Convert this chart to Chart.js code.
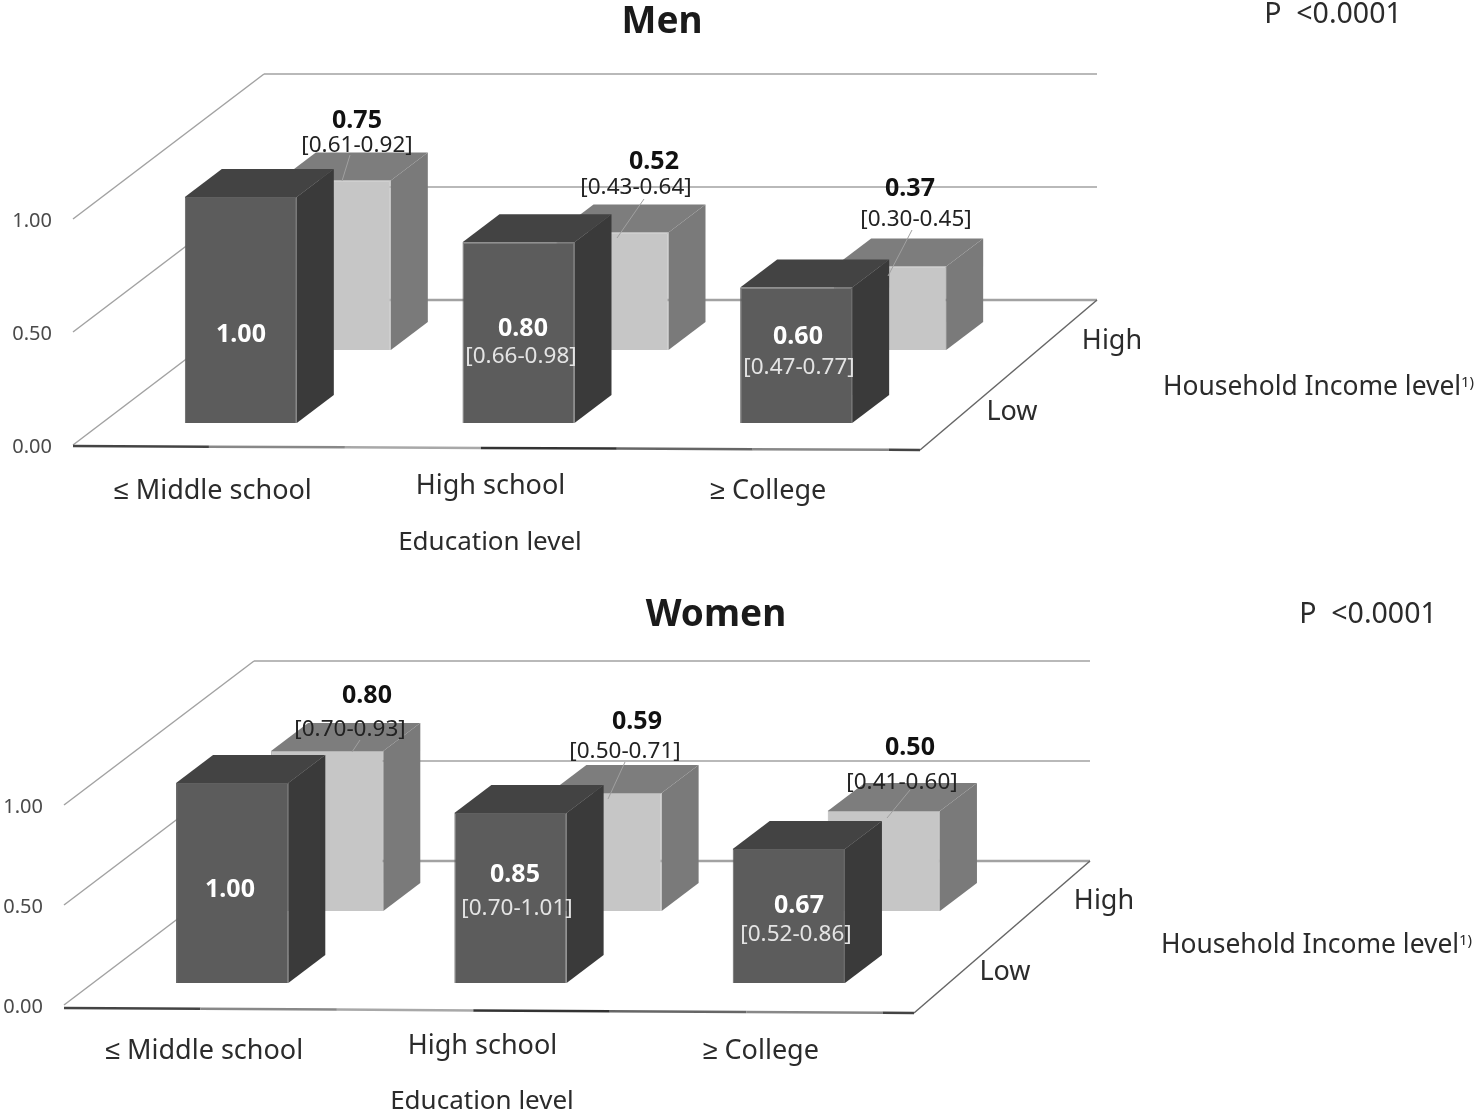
<!DOCTYPE html>
<html>
<head>
<meta charset="utf-8">
<style>
  html, body { margin: 0; background: #fff; }
  canvas { position: absolute; left: 0; }
</style>
<script src="https://cdn.jsdelivr.net/npm/chart.js@4"></script>
</head>
<body>
<canvas id="men" width="1477" height="575" style="top:0"></canvas>
<canvas id="women" width="1477" height="536" style="top:575px"></canvas>
<script>
const educationLevels = ['≤ Middle school', 'High school', '≥ College'];
const incomeLevels = ['Low', 'High'];
const yTickValues = [0, 0.5, 1];

const menLow = [1.00, 0.80, 0.60];
const menHigh = [0.75, 0.52, 0.37];
const menLowCI = ['', '[0.66-0.98]', '[0.47-0.77]'];
const menHighCI = ['[0.61-0.92]', '[0.43-0.64]', '[0.30-0.45]'];

const womenLow = [1.00, 0.85, 0.67];
const womenHigh = [0.80, 0.59, 0.50];
const womenLowCI = ['', '[0.70-1.01]', '[0.52-0.86]'];
const womenHighCI = ['[0.70-0.93]', '[0.50-0.71]', '[0.41-0.60]'];

const FONT = "'Noto Sans', sans-serif";
const TEXT = '#2b2b2b';
const BAR_DEPTH = { x: 37, y: 28 };
const FACES = {
  low: { front: '#5c5c5c', top: '#434343', side: '#3a3a3a', edge: '#606060' },
  high: { front: '#c6c6c6', top: '#7d7d7d', side: '#7a7a7a', edge: '#b4b4b4' },
};
const EDGE_COLORS = ['#444444', '#888888', '#a8a8a8', '#333333', '#666666', '#888888', '#444444'];

// 3D look: every row of bars is shifted back along the floor
const bars3d = {
  id: 'bars3d',

  beforeDatasetsDraw(chart, args, opts) {
    const { ctx, chartArea } = chart;
    const y = chart.scales.y;
    const left = chartArea.left;
    ctx.save();
    ctx.strokeStyle = '#a2a2a2';
    yTickValues.forEach((v) => {
      const py = y.getPixelForValue(v);
      const backX = left + opts.wall.x;
      const backY = py - opts.wall.y;
      ctx.lineWidth = 1.5;
      ctx.beginPath();
      ctx.moveTo(left, py);
      ctx.lineTo(backX, backY);
      ctx.stroke();
      ctx.lineWidth = v === 0 ? 2.5 : 1.5;
      ctx.beginPath();
      ctx.moveTo(backX, backY);
      ctx.lineTo(opts.wallRight, backY);
      ctx.stroke();
    });

    // front edge of the floor, in its uneven greys, then the right side
    const y0 = y.getPixelForValue(0);
    const edgeLen = opts.floorRight - left;
    const step = edgeLen / 6.23;
    ctx.lineWidth = 2.5;
    EDGE_COLORS.forEach((c, i) => {
      const x1 = left + step * i;
      const x2 = Math.min(x1 + step, opts.floorRight);
      const slope = (opts.edgeDrop[1] - opts.edgeDrop[0]) / edgeLen;
      ctx.strokeStyle = c;
      ctx.beginPath();
      ctx.moveTo(x1, y0 + opts.edgeDrop[0] + (x1 - left) * slope);
      ctx.lineTo(x2, y0 + opts.edgeDrop[0] + (x2 - left) * slope);
      ctx.stroke();
    });
    ctx.lineWidth = 1.5;
    ctx.strokeStyle = '#666666';
    ctx.beginPath();
    ctx.moveTo(opts.floorRight, y0 + opts.edgeDrop[1]);
    ctx.lineTo(opts.wallRight, y0 - opts.wall.y);
    ctx.stroke();
    ctx.restore();
  },

  beforeDatasetDraw(chart, args, opts) {
    const { ctx } = chart;
    const shift = opts.rows[args.index];
    const faces = args.index === 0 ? FACES.low : FACES.high;
    ctx.save();
    ctx.translate(shift.x, -shift.y);
    chart.getDatasetMeta(args.index).data.forEach((bar) => {
      const l = bar.x - bar.width / 2;
      const r = bar.x + bar.width / 2;
      ctx.fillStyle = faces.top;
      ctx.beginPath();
      ctx.moveTo(l, bar.y);
      ctx.lineTo(l + BAR_DEPTH.x, bar.y - BAR_DEPTH.y);
      ctx.lineTo(r + BAR_DEPTH.x, bar.y - BAR_DEPTH.y);
      ctx.lineTo(r, bar.y);
      ctx.closePath();
      ctx.fill();
      ctx.fillStyle = faces.side;
      ctx.beginPath();
      ctx.moveTo(r, bar.y);
      ctx.lineTo(r + BAR_DEPTH.x, bar.y - BAR_DEPTH.y);
      ctx.lineTo(r + BAR_DEPTH.x, bar.base - BAR_DEPTH.y);
      ctx.lineTo(r, bar.base);
      ctx.closePath();
      ctx.fill();
    });
  },

  afterDatasetDraw(chart) {
    chart.ctx.restore();
  },

  afterDatasetsDraw(chart, args, opts) {
    const { ctx, scales } = chart;
    const top = opts.top;
    const text = (str, x, y, font, color, align) => {
      ctx.font = font;
      ctx.fillStyle = color || TEXT;
      ctx.textAlign = align || 'center';
      ctx.textBaseline = 'middle';
      ctx.fillText(str, x, y - top + 2);
    };

    ctx.save();
    ctx.strokeStyle = '#a0a0a0';
    ctx.lineWidth = 1;
    opts.leaders.forEach((l) => {
      ctx.beginPath();
      ctx.moveTo(l[0], l[1] - top);
      ctx.lineTo(l[2], l[3] - top);
      ctx.stroke();
    });

    const bold = `bold 25px ${FONT}`;
    const thin = `22.5px ${FONT}`;
    opts.lowValues.forEach((v, i) => {
      text(v.toFixed(2), opts.lowPos[i][0], opts.lowPos[i][1], bold, '#ffffff');
      if (opts.lowCI[i]) text(opts.lowCI[i], opts.lowPos[i][2], opts.lowPos[i][3], thin, '#e4e4e4');
    });
    opts.highValues.forEach((v, i) => {
      text(v.toFixed(2), opts.highPos[i][0], opts.highPos[i][1], bold, '#111111');
      text(opts.highCI[i], opts.highPos[i][2], opts.highPos[i][3], thin, '#222222');
    });

    const axisFont = `27px ${FONT}`;
    const titleFont = `26.4px ${FONT}`;
    educationLevels.forEach((name, i) => {
      text(name, scales.x.getPixelForTick(i) + 1, opts.catY[i], axisFont);
    });
    text('Education level', opts.xTitle[0], opts.xTitle[1], `26px ${FONT}`);
    incomeLevels.forEach((name, i) => {
      text(name, opts.rowLabels[i][0], opts.rowLabels[i][1], axisFont);
    });
    text('Household Income level', opts.rowTitle[0], opts.rowTitle[1], titleFont, TEXT, 'left');
    text('1)', opts.rowTitle[0] + 298, opts.rowTitle[1] - 4, `15px ${FONT}`, TEXT, 'left');
    text(opts.title, opts.titlePos[0], opts.titlePos[1], `bold 37px ${FONT}`, '#1a1a1a');
    text('P  <0.0001', opts.pPos[0], opts.pPos[1], `28.5px ${FONT}`);
    ctx.restore();
  },
};

function makePanel(id, low, high, panel) {
  const canvas = document.getElementById(id);
  return new Chart(canvas, {
    type: 'bar',
    data: {
      labels: educationLevels,
      datasets: [
        { label: incomeLevels[0], data: low, backgroundColor: FACES.low.front, borderColor: FACES.low.edge, borderWidth: 1, clip: false },
        { label: incomeLevels[1], data: high, backgroundColor: FACES.high.front, borderColor: FACES.high.edge, borderWidth: 1, clip: false },
      ],
    },
    options: {
      responsive: false,
      animation: false,
      layout: { padding: panel.padding },
      datasets: { bar: { grouped: false, categoryPercentage: 112 / 277.7, barPercentage: 1 } },
      scales: {
        x: {
          grid: { display: false },
          border: { display: false },
          ticks: { display: false },
          afterFit: (s) => { s.height = 0; },
        },
        y: {
          min: 0,
          max: 1,
          grid: { display: false },
          border: { display: false },
          afterBuildTicks: (s) => { s.ticks = yTickValues.map((value) => ({ value })); },
          ticks: {
            color: '#4a4a4a',
            padding: 13,
            labelOffset: 2,
            font: { family: FONT, size: 20 },
            callback: (v) => v.toFixed(2),
          },
          afterFit: (s) => { s.width = panel.axisWidth; },
        },
      },
      plugins: {
        legend: { display: false },
        tooltip: { enabled: false },
        bars3d: Object.assign({ lowValues: low, highValues: high }, panel),
      },
    },
    plugins: [bars3d],
  });
}

makePanel('men', menLow, menHigh, {
  top: 0,
  title: 'Men',
  titlePos: [662, 20],
  pPos: [1333, 13],
  padding: { top: 219, bottom: 130, left: 0, right: 571 },
  axisWidth: 73,
  rows: [{ x: 29, y: 22 }, { x: 123, y: 95 }],
  wall: { x: 191, y: 145 },
  wallRight: 1097,
  floorRight: 920,
  edgeDrop: [1, 5],
  lowCI: menLowCI,
  highCI: menHighCI,
  lowPos: [[241, 333, 0, 0], [523, 327, 521, 355], [798, 335, 799, 366]],
  highPos: [[357, 119, 357, 144], [654, 160, 636, 186], [910, 187, 916, 218]],
  leaders: [[350, 155, 342, 181], [644, 199, 617, 238], [912, 230, 888, 276]],
  catY: [489, 484, 489],
  xTitle: [490, 541],
  rowLabels: [[1012, 410], [1112, 339]],
  rowTitle: [1163, 385],
});

makePanel('women', womenLow, womenHigh, {
  top: 575,
  title: 'Women',
  titlePos: [716, 613],
  pPos: [1368, 613],
  padding: { top: 230, bottom: 106, left: 0, right: 578 },
  axisWidth: 64,
  rows: [{ x: 29, y: 22 }, { x: 124, y: 94 }],
  wall: { x: 190, y: 144 },
  wallRight: 1090,
  floorRight: 914,
  edgeDrop: [3, 8],
  lowCI: womenLowCI,
  highCI: womenHighCI,
  lowPos: [[230, 888, 0, 0], [515, 873, 517, 907], [799, 904, 796, 933]],
  highPos: [[367, 694, 350, 728], [637, 720, 625, 750], [910, 746, 902, 781]],
  leaders: [[360, 740, 352, 752], [625, 762, 608, 799], [910, 790, 887, 818]],
  catY: [1049, 1044, 1049],
  xTitle: [482, 1100],
  rowLabels: [[1005, 970], [1104, 899]],
  rowTitle: [1161, 943],
});
</script>
</body>
</html>
